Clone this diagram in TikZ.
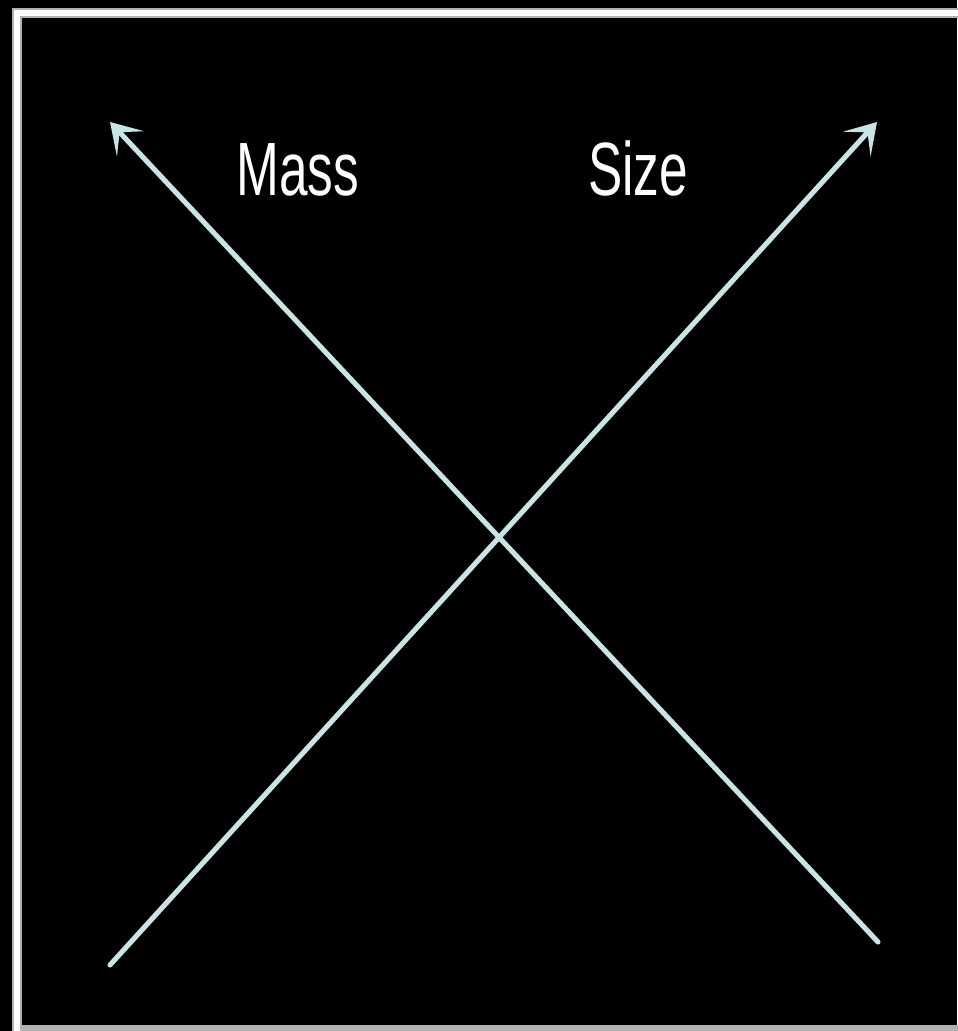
\documentclass[tikz,border=0pt]{standalone}
\usepackage{fontspec}
\setmainfont{Liberation Sans}
\usetikzlibrary{arrows.meta}
\definecolor{axisline}{HTML}{C8E4E4}
\begin{document}
\begin{tikzpicture}[
        x=0.02cm, y=-0.02cm,
        axis/.style={draw=axisline, line width=2.9pt, line cap=round, -{Stealth[length=17pt, width=21pt, inset=9pt]}},
        label/.style={anchor=base, text=white, font=\fontsize{43}{43}\selectfont, xscale=0.68, inner sep=0pt}
    ]
        \useasboundingbox (0,0) rectangle (957,1031);
        \fill[black] (0,0) rectangle (957,1031);

        % frame
        \draw[gray!60, line width=10*0.02cm] (17,1040) -- (17,12.5) -- (970,12.5);
        \draw[white, line width=6*0.02cm] (17,1040) -- (17,12.5) -- (970,12.5);
        \draw[gray!60, line width=7*0.02cm] (21,1028) -- (970,1028);

        \coordinate (massstart) at (878,942);
        \coordinate (masstip) at (110,122);
        \coordinate (sizestart) at (110,965);
        \coordinate (sizetip) at (877,122);

        \draw[axis] (massstart) -- (masstip);
        \draw[axis] (sizestart) -- (sizetip);

        \node[label] (mass) at (298,195) {Mass};
        \node[label] (size) at (638,195) {Size};
    \end{tikzpicture}
\end{document}
